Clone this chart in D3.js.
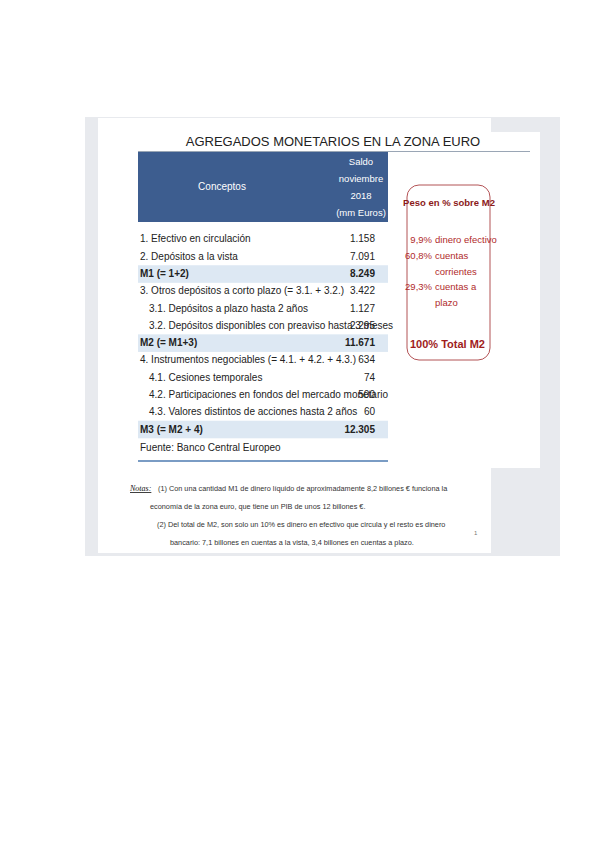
<!DOCTYPE html>
<html><head><meta charset="utf-8">
<script src="https://cdn.jsdelivr.net/npm/d3@7"></script>
<style>body{margin:0;background:#fff}svg{display:block}</style>
</head><body>
<svg id="c" width="599" height="848"></svg>
<script>
const conceptos = [
  "1. Efectivo en circulación",
  "2. Depósitos a la vista",
  "M1 (= 1+2)",
  "3. Otros depósitos a corto plazo (= 3.1. + 3.2.)",
  "3.1. Depósitos a plazo hasta 2 años",
  "3.2. Depósitos disponibles con preaviso hasta 3 meses",
  "M2 (= M1+3)",
  "4. Instrumentos negociables (= 4.1. + 4.2. + 4.3.)",
  "4.1. Cesiones temporales",
  "4.2. Participaciones en fondos del mercado monetario",
  "4.3. Valores distintos de acciones hasta 2 años",
  "M3 (= M2 + 4)"
];
const saldos = ["1.158","7.091","8.249","3.422","1.127","2.295","11.671","634","74","500","60","12.305"];
const totales = [false,false,true,false,false,false,true,false,false,false,false,true];
const sangria = [0,0,0,0,1,1,0,0,1,1,1,0];
const pesoPct = ["9,9%","60,8%","","29,3%",""];
const pesoTxt = ["dinero efectivo","cuentas","corrientes","cuentas a","plazo"];
const notas = [
  ["(1)  Con una cantidad M1 de dinero líquido de aproximadamente 8,2 billones € funciona la", 0],
  ["economía de la zona euro, que tiene un PIB de unos 12 billones €.", 1],
  ["(2)  Del total de M2, son solo un 10% es dinero en efectivo que circula y el resto es dinero", 2],
  ["bancario: 7,1 billones en cuentas a la vista, 3,4 billones en cuentas a plazo.", 3]
];

const svg = d3.select("#c");
const font = "Liberation Sans Narrow, Arial Narrow, sans-serif";

// fondo
svg.append("rect").attr("x",85).attr("y",117).attr("width",475).attr("height",439).attr("fill","#e8eaee");
svg.append("rect").attr("x",300).attr("y",132).attr("width",240).attr("height",336).attr("fill","#fff");
svg.append("rect").attr("x",98).attr("y",118).attr("width",393).attr("height",435).attr("fill","#fff");

svg.append("text").attr("x",333).attr("y",146).attr("text-anchor","middle")
  .attr("font-family",font).attr("font-size",13).attr("fill","#222").text("AGREGADOS MONETARIOS EN LA ZONA EURO");
svg.append("line").attr("x1",138).attr("x2",530).attr("y1",151.5).attr("y2",151.5).attr("stroke","#9aa6b5");

// cabecera
svg.append("rect").attr("x",138).attr("y",152).attr("width",250).attr("height",70).attr("fill","#3d5d8f");
svg.append("text").attr("x",222).attr("y",190).attr("text-anchor","middle").attr("font-family",font)
  .attr("font-size",10).attr("fill","#fff").text("Conceptos");
["Saldo","noviembre","2018","(mm Euros)"].forEach((t,i)=>
  svg.append("text").attr("x",361).attr("y",165+i*17).attr("text-anchor","middle").attr("font-family",font)
    .attr("font-size",9.5).attr("fill","#fff").text(t));

const y = d3.scaleBand().domain(d3.range(conceptos.length)).range([230,438]).padding(0.04);
const rows = svg.append("g").selectAll("g").data(conceptos).join("g")
  .attr("transform",(d,i)=>`translate(0,${y(i)})`);
rows.filter((d,i)=>totales[i]).append("rect").attr("x",138).attr("width",250).attr("height",y.bandwidth()+1).attr("fill","#dde8f3");
rows.append("text").attr("x",(d,i)=>140+sangria[i]*9).attr("y",y.bandwidth()/2+3.5)
  .attr("font-family",font).attr("font-size",10).attr("fill","#222")
  .attr("font-weight",(d,i)=>totales[i]?"bold":"normal").text(d=>d);
rows.append("text").attr("x",375).attr("y",y.bandwidth()/2+3.5).attr("text-anchor","end")
  .attr("font-family",font).attr("font-size",10).attr("fill","#222")
  .attr("font-weight",(d,i)=>totales[i]?"bold":"normal").text((d,i)=>saldos[i]);

svg.append("text").attr("x",140).attr("y",451).attr("font-family",font).attr("font-size",10).attr("fill","#222")
  .text("Fuente: Banco Central Europeo");
svg.append("line").attr("x1",138).attr("x2",388).attr("y1",461).attr("y2",461).attr("stroke","#4e7bb0").attr("stroke-width",1.5);

// caja de pesos
svg.append("rect").attr("x",407).attr("y",185).attr("width",83).attr("height",175).attr("rx",12)
  .attr("fill","none").attr("stroke","#a0262a").attr("stroke-width",0.8);
svg.append("text").attr("x",449).attr("y",206).attr("text-anchor","middle").attr("font-family",font)
  .attr("font-size",9.5).attr("font-weight","bold").attr("fill","#8b1a1a").text("Peso en % sobre M2");
const py = d3.scaleLinear().domain([0,4]).range([243,306]);
pesoPct.forEach((p,i)=>{
  svg.append("text").attr("x",432).attr("y",py(i)).attr("text-anchor","end").attr("font-family",font)
    .attr("font-size",9.5).attr("fill","#b02a2a").text(p);
  svg.append("text").attr("x",435).attr("y",py(i)).attr("font-family",font)
    .attr("font-size",9.5).attr("fill","#b02a2a").text(pesoTxt[i]);
});
svg.append("text").attr("x",410).attr("y",348).attr("font-family",font).attr("font-size",11)
  .attr("font-weight","bold").attr("fill","#a01c1c").text("100%  Total M2");

// notas
const nx = [130,150,157,170], ny = [491,509,527,545];
svg.append("text").attr("x",130).attr("y",ny[0]).attr("font-family","Liberation Serif, serif").attr("font-size",8)
  .attr("font-style","italic").attr("text-decoration","underline").attr("fill","#111").text("Notas:");
notas.forEach(([t,i])=>svg.append("text").attr("x",i===0?158:nx[i]).attr("y",ny[i])
  .attr("font-family",font).attr("font-size",7.3).attr("fill","#333").text(t));
svg.append("text").attr("x",474).attr("y",535).attr("font-family",font).attr("font-size",6).attr("fill","#777").text("1");
</script>
</body></html>
